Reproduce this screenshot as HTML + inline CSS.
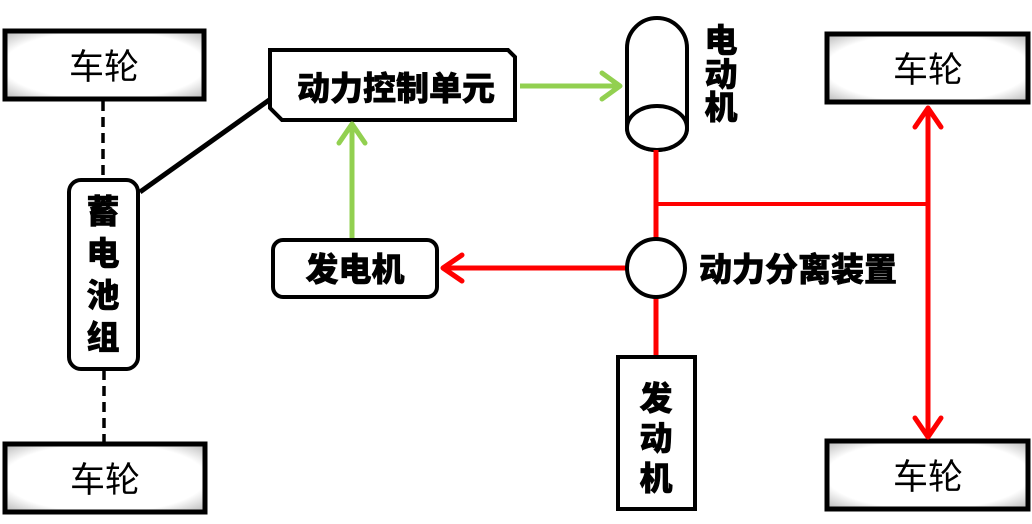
<!DOCTYPE html>
<html><head><meta charset="utf-8"><style>
html,body{margin:0;padding:0;background:#fff;}
svg{display:block;}
.w{font-family:"Liberation Sans","Noto Sans CJK SC",sans-serif;font-size:35px;fill:#000;}
.b{font-family:"Liberation Sans","Noto Sans CJK SC",sans-serif;font-size:33px;font-weight:900;fill:#000;stroke:#000;stroke-width:0.6;}
</style></head><body>
<svg width="1032" height="524" viewBox="0 0 1032 524" xmlns="http://www.w3.org/2000/svg">
<defs>
<radialGradient id="g" cx="50%" cy="50%" r="72%">
<stop offset="0.7" stop-color="#fff"/><stop offset="1" stop-color="#b0b0b0"/>
</radialGradient>
</defs>
<rect x="5" y="31" width="199" height="68" fill="url(#g)" stroke="#000" stroke-width="5"/>
<text x="104" y="79" text-anchor="middle" class="w">车轮</text>
<rect x="5" y="444" width="200" height="68" fill="url(#g)" stroke="#000" stroke-width="5"/>
<text x="105" y="492" text-anchor="middle" class="w">车轮</text>
<rect x="827" y="34" width="201" height="68" fill="url(#g)" stroke="#000" stroke-width="5"/>
<text x="928" y="82" text-anchor="middle" class="w">车轮</text>
<rect x="827" y="441" width="201" height="68" fill="url(#g)" stroke="#000" stroke-width="5"/>
<text x="928" y="489" text-anchor="middle" class="w">车轮</text>
<line x1="103" y1="101" x2="103" y2="180" stroke="#000" stroke-width="3.5" stroke-dasharray="10,6"/>
<line x1="104" y1="370" x2="104" y2="442" stroke="#000" stroke-width="3.5" stroke-dasharray="10,6"/>
<rect x="69" y="180" width="69" height="189" rx="12" fill="#fff" stroke="#000" stroke-width="4"/>
<text x="103" y="223" text-anchor="middle" class="b">蓄</text>
<text x="103" y="265" text-anchor="middle" class="b">电</text>
<text x="103" y="307" text-anchor="middle" class="b">池</text>
<text x="103" y="349" text-anchor="middle" class="b">组</text>
<line x1="140" y1="192" x2="272" y2="98" stroke="#000" stroke-width="5"/>
<path d="M270,50 L508,50 L515,57 L515,120 L282,120 L270,108 Z" fill="#fff" stroke="#000" stroke-width="4"/>
<text x="396" y="100" text-anchor="middle" class="b">动力控制单元</text>
<line x1="520" y1="86" x2="618" y2="86" stroke="#92d050" stroke-width="5"/>
<polyline points="602,73 620,86 602,99" fill="none" stroke="#92d050" stroke-width="5" stroke-linecap="round" stroke-linejoin="round"/>
<line x1="352" y1="240" x2="352" y2="126" stroke="#92d050" stroke-width="5"/>
<polyline points="339,143 352,124 365,143" fill="none" stroke="#92d050" stroke-width="5" stroke-linecap="round" stroke-linejoin="round"/>
<rect x="273" y="240" width="164" height="57" rx="10" fill="#fff" stroke="#000" stroke-width="4"/>
<text x="355" y="281" text-anchor="middle" class="b">发电机</text>
<path d="M627,48 A30,30 0 0 1 687,48 L687,128 A30,22 0 0 1 627,128 Z" fill="#fff" stroke="#000" stroke-width="4"/>
<ellipse cx="657" cy="128" rx="30" ry="22" fill="#fff" stroke="#000" stroke-width="4"/>
<text x="721" y="52" text-anchor="middle" class="b">电</text>
<text x="721" y="86" text-anchor="middle" class="b">动</text>
<text x="721" y="119" text-anchor="middle" class="b">机</text>
<line x1="656" y1="150" x2="656" y2="240" stroke="#ff0000" stroke-width="5"/>
<line x1="656" y1="204" x2="928" y2="204" stroke="#ff0000" stroke-width="4"/>
<line x1="928" y1="110" x2="928" y2="436" stroke="#ff0000" stroke-width="5"/>
<polyline points="915,127 928,108 941,127" fill="none" stroke="#ff0000" stroke-width="5" stroke-linecap="round" stroke-linejoin="round"/>
<polyline points="915,418 928,437 941,418" fill="none" stroke="#ff0000" stroke-width="5" stroke-linecap="round" stroke-linejoin="round"/>
<line x1="627" y1="268" x2="444" y2="268" stroke="#ff0000" stroke-width="5"/>
<polyline points="462,255 443,268 462,281" fill="none" stroke="#ff0000" stroke-width="5" stroke-linecap="round" stroke-linejoin="round"/>
<line x1="656" y1="297" x2="656" y2="356" stroke="#ff0000" stroke-width="5"/>
<circle cx="656" cy="268" r="29" fill="#fff" stroke="#000" stroke-width="4"/>
<text x="699" y="281" class="b">动力分离装置</text>
<rect x="618" y="357" width="77" height="152" fill="#fff" stroke="#000" stroke-width="4"/>
<text x="656" y="410" text-anchor="middle" class="b">发</text>
<text x="656" y="450" text-anchor="middle" class="b">动</text>
<text x="656" y="490" text-anchor="middle" class="b">机</text>
</svg>
</body></html>
